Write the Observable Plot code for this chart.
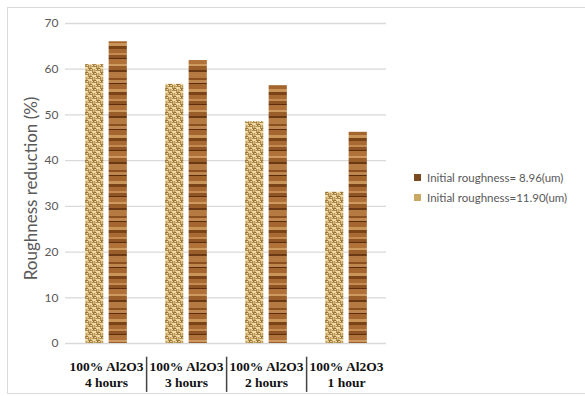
<!DOCTYPE html>
<html>
<head>
<meta charset="utf-8">
<script src="https://cdn.jsdelivr.net/npm/d3@7"></script>
<script src="https://cdn.jsdelivr.net/npm/@observablehq/plot@0.6"></script>
<style>
  html, body { margin: 0; padding: 0; background: #fff; overflow: hidden; }
  #frame { position: absolute; left: 7px; top: 7px; width: 600px; height: 387px; border: 1px solid #d9d9d9; box-sizing: border-box; }
  #chart { position: absolute; left: 0; top: 0; }
  #legend { position: absolute; left: 414px; top: 167px; font-family: Lato, sans-serif; font-size: 11.5px; color: #595959; }
  #legend div { display: flex; align-items: center; height: 20px; }
  #legend span.sw { display: inline-block; width: 7px; height: 7px; margin-right: 6px; }
</style>
</head>
<body>
<div id="frame"></div>
<div id="chart"></div>
<div id="legend"></div>
<script>
const groups = ["100% Al2O3 4 hours", "100% Al2O3 3 hours", "100% Al2O3 2 hours", "100% Al2O3 1 hour"];
const labelLine1 = ["100% Al2O3", "100% Al2O3", "100% Al2O3", "100% Al2O3"];
const labelLine2 = ["4 hours", "3 hours", "2 hours", "1 hour"];
const seriesNames = ["Initial roughness= 8.96(um)", "Initial roughness=11.90(um)"];
const rough896 = [66.0, 61.9, 56.4, 46.2];
const rough1190 = [61.0, 56.7, 48.5, 33.1];
const yTicks = [0, 10, 20, 30, 40, 50, 60, 70];
const yLabel = "Roughness reduction (%)";

const idx = groups.map((g, i) => i);

const svg = Plot.plot({
  width: 585,
  height: 396,
  marginLeft: 65,
  marginRight: 199,
  marginTop: 23,
  marginBottom: 53,
  style: { fontFamily: "Lato, sans-serif", fontSize: "12px", color: "#595959", background: "transparent" },
  x: { domain: groups, padding: 0, axis: null },
  y: { domain: [0, 70], ticks: yTicks, tickSize: 0, tickPadding: 7, label: null },
  marks: [
    Plot.ruleY(yTicks, { stroke: "#d9d9d9", strokeWidth: 1.3 }),
    Plot.barY(idx, { x: i => groups[i], y: i => rough1190[i], fill: "url(#burlap)", dx: -11.75, insetLeft: 30.9, insetRight: 30.9 }),
    Plot.barY(idx, { x: i => groups[i], y: i => rough896[i], fill: "url(#wood)", dx: 11.75, insetLeft: 30.9, insetRight: 30.9 }),
    Plot.text(idx, { x: i => groups[i], text: i => labelLine1[i] + "\n" + labelLine2[i], frameAnchor: "bottom", dy: 43, lineHeight: 1.12, fontFamily: "Liberation Serif, serif", fontWeight: "bold", fontSize: 13.5, fill: "#111" }),
    Plot.ruleX(groups.slice(0, 3), { x: d => d, dx: 40.1, y1: -3, y2: -10.7, stroke: "#444", strokeWidth: 1.5 }),
    Plot.text([yLabel], { frameAnchor: "left", textAnchor: "middle", rotate: -90, dx: -34, dy: 5, fontSize: 17, fill: "#595959" })
  ]
});

// textures for the bars
const defs = d3.select(svg).insert("defs", ":first-child");
const bur = defs.append("pattern").attr("id", "burlap").attr("patternUnits", "userSpaceOnUse").attr("width", 8).attr("height", 8);
bur.append("rect").attr("width", 8).attr("height", 8).attr("fill", "#eed9a4");
[[0,0,4,1,"#9c7434"],[0,2,4,1,"#b08a48"],[4,1,1,3,"#9c7434"],[6,1,1,3,"#b08a48"],
 [4,4,4,1,"#9c7434"],[4,6,4,1,"#b08a48"],[0,5,1,3,"#9c7434"],[2,5,1,3,"#b08a48"],
 [1,1,1,1,"#74501c"],[5,5,1,1,"#74501c"],[3,6,1,1,"#d4b878"],[7,2,1,1,"#d4b878"]]
  .forEach(([x,y,w,h,c]) => bur.append("rect").attr("x", x).attr("y", y).attr("width", w).attr("height", h).attr("fill", c));
const wood = defs.append("pattern").attr("id", "wood").attr("patternUnits", "userSpaceOnUse").attr("width", 20).attr("height", 46);
wood.append("rect").attr("width", 20).attr("height", 46).attr("fill", "#a86c34");
[[0,3,"#7a4418"],[3,4,"#a86a32"],[7,2,"#c48b52"],[9,3,"#8e5424"],[12,1,"#5c2e0e"],[13,5,"#b07238"],
 [18,2,"#cf9a60"],[20,4,"#9a5e2a"],[24,2,"#6b3814"],[26,6,"#b57a42"],[32,2,"#8a5020"],[34,3,"#c08650"],
 [37,1,"#5a2c0c"],[38,5,"#a4662e"],[43,3,"#c89458"]]
  .forEach(([y,h,c]) => wood.append("rect").attr("x", 0).attr("y", y).attr("width", 20).attr("height", h).attr("fill", c));

document.getElementById("chart").appendChild(svg);

const legend = document.getElementById("legend");
const swatchColors = ["#7b4a20", "#c9a862"];
seriesNames.forEach((name, i) => {
  const row = document.createElement("div");
  const sw = document.createElement("span");
  sw.className = "sw";
  sw.style.background = swatchColors[i];
  row.appendChild(sw);
  row.appendChild(document.createTextNode(name));
  legend.appendChild(row);
});
</script>
</body>
</html>
